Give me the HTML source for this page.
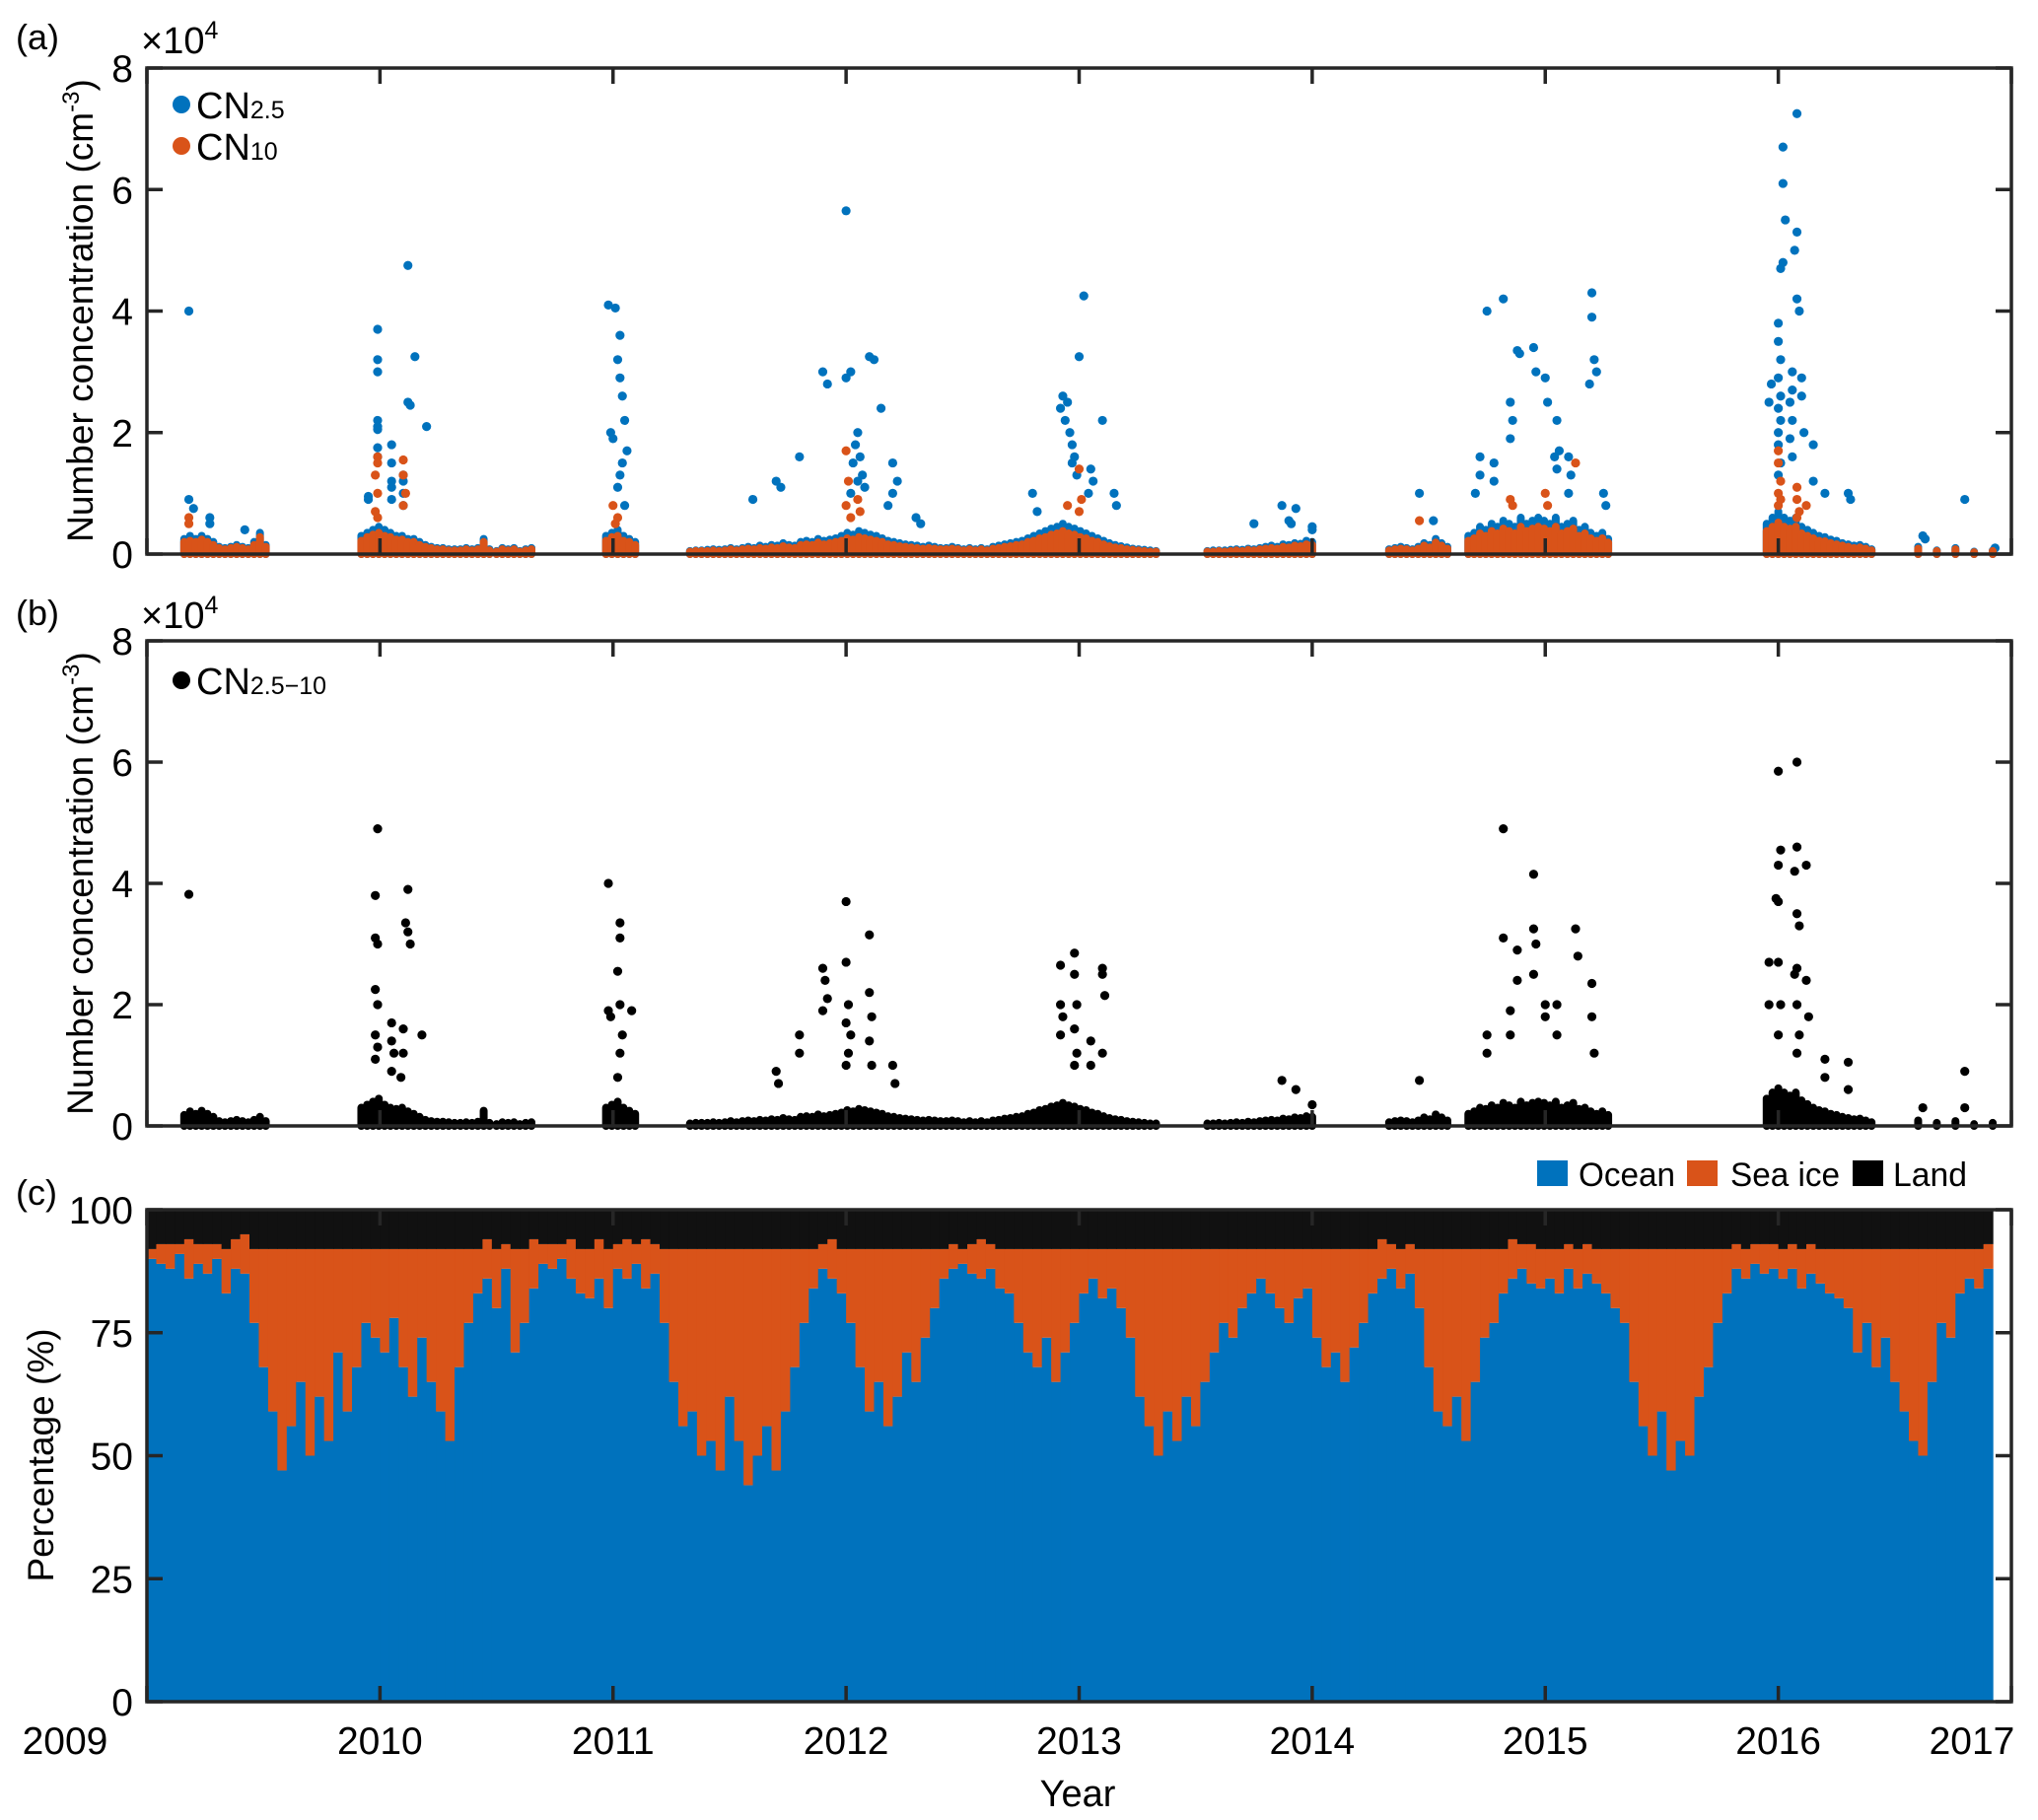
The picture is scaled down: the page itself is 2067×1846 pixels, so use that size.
<!DOCTYPE html>
<html><head><meta charset="utf-8"><style>
html,body{margin:0;padding:0;background:#fff;}
svg{display:block;font-family:"Liberation Sans",Arial,sans-serif;}
</style></head><body>
<svg id="chart" xmlns="http://www.w3.org/2000/svg" width="2067" height="1846" viewBox="0 0 2067 1846">
<rect width="2067" height="1846" fill="#fff"/>
<g id="gA"></g>
<g id="gB"></g>
<g id="gC"></g>
<g id="gT"></g>
</svg>
<script>
// ---- data ----
const yearTicks = [2009,2010,2011,2012,2013,2014,2015,2016,2017];
const concTicks = [0,2,4,6,8];
const pctTicks = [0,25,50,75,100];
const campStart = [2009.16,2009.92,2010.5,2010.97,2011.33,2013.55,2014.33,2014.67,2015.95,2016.6];
const campStep  = [0.025,0.025,0.025,0.025,0.025,0.025,0.025,0.025,0.025,0.08];
const cn25Base = [
[.25,.3,.25,.3,.25,.2,.12,.1,.12,.15,.12,.1,.2,.35,.15],
[.3,.35,.4,.45,.4,.35,.3,.3,.25,.25,.2,.15,.12,.1,.1,.08,.08,.08,.1,.08,.1,.25,.08],
[.05,.1,.08,.1,.05,.08,.1],
[.3,.35,.4,.3,.25,.2],
[.05,.06,.06,.07,.08,.07,.08,.1,.08,.1,.12,.1,.14,.12,.15,.14,.18,.15,.14,.2,.22,.2,.25,.22,.24,.26,.3,.35,.32,.38,.35,.32,.3,.26,.22,.2,.18,.16,.15,.14,.12,.14,.12,.1,.1,.12,.1,.08,.1,.08,.1,.08,.12,.14,.16,.18,.2,.22,.26,.3,.34,.38,.42,.45,.5,.45,.42,.38,.34,.3,.26,.22,.18,.15,.13,.11,.09,.08,.07,.06,.05],
[.05,.06,.06,.06,.07,.08,.07,.09,.08,.1,.12,.14,.12,.16,.15,.18,.17,.22,.2],
[.08,.1,.12,.1,.08,.12,.18,.15,.25,.18,.12],
[.3,.35,.45,.4,.5,.45,.55,.5,.45,.6,.5,.55,.6,.55,.5,.6,.45,.5,.55,.4,.45,.35,.3,.35,.25],
[.5,.6,.7,.6,.55,.6,.45,.4,.35,.3,.28,.24,.22,.18,.16,.14,.15,.12,.08],
[.12,.06,.1,.04,.06]];
const cn10Base = [
[.2,.22,.2,.24,.2,.15,.1,.08,.1,.12,.1,.08,.15,.28,.12],
[.22,.28,.32,.35,.3,.28,.24,.24,.2,.2,.15,.12,.1,.08,.08,.06,.06,.06,.08,.06,.08,.2,.06],
[.04,.08,.06,.08,.04,.06,.08],
[.22,.28,.3,.22,.2,.15],
[.04,.05,.05,.05,.06,.05,.06,.08,.06,.08,.09,.08,.1,.09,.11,.1,.13,.11,.1,.15,.16,.15,.19,.16,.18,.2,.22,.26,.24,.28,.26,.24,.22,.2,.16,.15,.13,.12,.11,.1,.09,.1,.09,.08,.08,.09,.08,.06,.08,.06,.08,.06,.09,.1,.12,.13,.15,.16,.2,.22,.26,.28,.32,.34,.38,.34,.32,.28,.26,.22,.2,.16,.13,.11,.1,.08,.07,.06,.05,.04,.04],
[.04,.04,.05,.04,.05,.06,.05,.07,.06,.08,.09,.1,.09,.12,.11,.14,.13,.16,.15],
[.06,.08,.09,.08,.06,.09,.14,.11,.19,.14,.09],
[.22,.26,.34,.3,.38,.34,.42,.38,.34,.45,.38,.42,.45,.42,.38,.45,.34,.38,.42,.3,.34,.26,.22,.26,.19],
[.38,.45,.52,.45,.42,.45,.34,.3,.26,.22,.21,.18,.16,.14,.12,.1,.11,.09,.06],
[.09,.05,.08,.03,.05]];
const diffBase = [
[.18,.24,.2,.25,.2,.15,.08,.06,.08,.1,.08,.06,.1,.15,.08],
[.3,.35,.4,.45,.35,.3,.28,.3,.24,.2,.15,.1,.08,.07,.07,.06,.05,.05,.06,.05,.07,.25,.05],
[.03,.06,.05,.06,.03,.05,.06],
[.3,.35,.4,.3,.25,.2],
[.04,.05,.05,.05,.06,.05,.06,.08,.06,.08,.09,.08,.1,.09,.11,.1,.13,.11,.1,.15,.16,.15,.19,.16,.18,.2,.22,.26,.24,.28,.26,.24,.22,.2,.16,.15,.13,.12,.11,.1,.09,.1,.09,.08,.08,.09,.08,.06,.08,.06,.08,.06,.09,.1,.12,.13,.15,.16,.2,.22,.26,.28,.32,.34,.38,.34,.32,.28,.26,.22,.2,.16,.13,.11,.1,.08,.07,.06,.05,.04,.04],
[.04,.04,.05,.04,.05,.06,.05,.07,.06,.08,.09,.1,.09,.12,.11,.14,.13,.16,.15],
[.06,.08,.09,.08,.06,.09,.14,.11,.19,.14,.09],
[.2,.24,.3,.28,.34,.3,.38,.34,.3,.4,.34,.38,.4,.38,.34,.4,.3,.34,.38,.28,.3,.24,.2,.24,.18],
[.45,.55,.62,.55,.5,.55,.42,.36,.3,.26,.24,.2,.18,.15,.13,.11,.12,.09,.06],
[.09,.05,.08,.03,.05]];
const cn25Out = [[2009.18,4.0],[2009.18,0.9],[2009.2,0.75],[2009.27,0.6],[2009.27,0.5],[2009.42,0.4],
[2009.99,3.7],[2009.99,3.2],[2009.99,3.0],[2009.99,2.2],[2009.99,2.1],[2009.99,2.05],[2009.99,1.75],[2009.99,1.6],[2009.95,0.95],[2009.95,0.9],
[2010.12,4.75],[2010.12,2.5],[2010.13,2.45],[2010.15,3.25],[2010.2,2.1],[2010.05,1.8],[2010.05,1.5],[2010.05,1.2],[2010.05,1.1],[2010.05,0.9],[2010.1,1.3],[2010.1,1.2],[2010.1,1.0],[2010.1,0.8],
[2010.98,4.1],[2011.01,4.05],[2011.03,3.6],[2011.02,3.2],[2011.03,2.9],[2011.04,2.6],[2011.05,2.2],[2010.99,2.0],[2011.0,1.9],[2011.06,1.7],[2011.04,1.5],[2011.03,1.3],[2011.02,1.1],[2011.05,0.8],
[2012.0,5.65],[2011.9,3.0],[2011.92,2.8],[2012.0,2.9],[2012.02,3.0],[2012.1,3.25],[2012.12,3.2],[2012.15,2.4],[2011.8,1.6],[2011.7,1.2],[2011.72,1.1],[2011.6,0.9],
[2012.05,2.0],[2012.04,1.8],[2012.06,1.6],[2012.03,1.5],[2012.07,1.3],[2012.05,1.2],[2012.08,1.1],[2012.02,1.0],[2012.2,1.5],[2012.22,1.2],[2012.2,1.0],[2012.18,0.8],[2012.3,0.6],[2012.32,0.5],
[2013.02,4.25],[2013.0,3.25],[2012.93,2.6],[2012.95,2.5],[2012.92,2.4],[2012.94,2.2],[2012.96,2.0],[2013.1,2.2],[2012.97,1.8],[2012.98,1.6],[2012.97,1.5],[2012.99,1.3],[2013.05,1.4],[2013.06,1.2],[2013.04,1.0],[2012.8,1.0],[2012.82,0.7],[2013.15,1.0],[2013.16,0.8],
[2013.87,0.8],[2013.93,0.75],[2013.9,0.55],[2013.91,0.5],[2013.75,0.5],[2014.0,0.45],[2014.0,0.4],
[2014.46,1.0],[2014.52,0.55],
[2014.75,4.0],[2014.82,4.2],[2014.88,3.35],[2014.89,3.3],[2014.95,3.4],[2014.96,3.0],[2015.0,2.9],[2015.01,2.5],[2015.2,4.3],[2015.2,3.9],[2015.21,3.2],[2015.22,3.0],[2015.19,2.8],
[2014.72,1.6],[2014.72,1.3],[2014.78,1.5],[2014.78,1.2],[2014.85,2.5],[2014.86,2.2],[2014.85,1.9],[2015.05,2.2],[2015.06,1.7],[2015.04,1.6],[2015.05,1.4],[2015.1,1.6],[2015.11,1.3],[2015.1,1.0],[2015.25,1.0],[2015.26,0.8],[2014.7,1.0],
[2016.02,6.7],[2016.02,6.1],[2016.03,5.5],[2016.02,4.8],[2016.01,4.7],[2016.08,7.25],[2016.08,5.3],[2016.07,5.0],[2016.08,4.2],[2016.09,4.0],[2015.97,2.8],[2015.96,2.5],
[2016.0,3.8],[2016.0,3.5],[2016.01,3.2],[2016.0,2.9],[2016.01,2.6],[2016.0,2.4],[2016.01,2.2],[2016.0,2.0],[2016.0,1.8],[2016.01,1.5],[2016.0,1.3],
[2016.06,3.0],[2016.06,2.7],[2016.05,2.5],[2016.06,2.2],[2016.05,1.9],[2016.06,1.6],[2016.1,2.9],[2016.1,2.6],[2016.11,2.0],[2016.15,1.8],[2016.15,1.2],[2016.2,1.0],[2016.3,1.0],[2016.31,0.9],
[2016.62,0.3],[2016.63,0.25],[2016.8,0.9],[2016.93,0.1]];
const cn10Out = [[2009.18,0.6],[2009.18,0.5],[2009.99,1.6],[2009.99,1.5],[2009.98,1.3],[2009.99,1.0],[2009.98,0.7],[2009.99,0.6],[2010.1,1.55],[2010.1,1.3],[2010.11,1.0],[2010.1,0.8],
[2011.0,0.8],[2011.02,0.6],[2011.01,0.5],[2012.0,1.7],[2012.01,1.2],[2012.0,0.8],[2012.02,0.6],[2012.05,0.9],[2012.06,0.7],[2013.0,1.4],[2013.01,0.9],[2013.0,0.7],[2012.95,0.8],
[2014.46,0.55],[2014.85,0.9],[2014.86,0.8],[2015.0,1.0],[2015.01,0.8],[2015.13,1.5],
[2016.0,1.7],[2016.0,1.5],[2016.01,1.2],[2016.0,1.0],[2016.01,0.9],[2016.0,0.8],[2016.08,1.1],[2016.08,0.9],[2016.09,0.7],[2016.08,0.6],[2016.12,0.8]];
const diffOut = [[2009.18,3.82],[2009.99,4.9],[2009.98,3.8],[2009.98,3.1],[2009.99,3.0],[2009.98,2.25],[2009.99,2.0],[2009.98,1.5],[2009.99,1.3],[2009.98,1.1],
[2010.12,3.9],[2010.11,3.35],[2010.12,3.2],[2010.13,3.0],[2010.18,1.5],[2010.05,1.7],[2010.05,1.4],[2010.06,1.2],[2010.05,0.9],[2010.1,1.6],[2010.1,1.2],[2010.09,0.8],
[2010.98,4.0],[2010.98,1.9],[2010.99,1.8],[2011.03,3.35],[2011.03,3.1],[2011.02,2.55],[2011.03,2.0],[2011.04,1.5],[2011.03,1.2],[2011.02,0.8],[2011.08,1.9],
[2011.8,1.5],[2011.8,1.2],[2011.7,0.9],[2011.71,0.7],[2011.9,2.6],[2011.91,2.4],[2011.92,2.1],[2011.9,1.9],
[2012.0,3.7],[2012.0,2.7],[2012.01,2.0],[2012.0,1.7],[2012.02,1.5],[2012.01,1.2],[2012.0,1.0],[2012.1,3.15],[2012.1,2.2],[2012.11,1.8],[2012.1,1.4],[2012.11,1.0],[2012.2,1.0],[2012.21,0.7],
[2012.92,2.65],[2012.92,2.0],[2012.93,1.8],[2012.92,1.5],[2012.98,2.85],[2012.98,2.5],[2012.99,2.0],[2012.98,1.6],[2012.99,1.2],[2012.98,1.0],[2013.1,2.6],[2013.1,2.5],[2013.11,2.15],[2013.1,1.2],[2013.05,1.4],[2013.05,1.0],
[2013.87,0.75],[2013.93,0.6],[2014.0,0.35],[2014.46,0.75],
[2014.75,1.5],[2014.75,1.2],[2014.82,4.9],[2014.82,3.1],[2014.88,2.9],[2014.88,2.4],[2014.95,4.15],[2014.95,3.25],[2014.96,3.0],[2014.95,2.5],[2015.0,2.0],[2015.0,1.8],[2015.05,2.0],[2015.05,1.5],[2015.13,3.25],[2015.14,2.8],[2015.2,2.35],[2015.2,1.8],[2015.21,1.2],[2014.85,1.9],[2014.85,1.5],
[2016.0,5.85],[2016.01,4.55],[2016.0,4.3],[2015.99,3.75],[2016.0,3.7],[2016.0,2.7],[2016.01,2.0],[2016.0,1.5],
[2016.08,6.0],[2016.08,4.6],[2016.07,4.2],[2016.08,3.5],[2016.09,3.3],[2016.08,2.6],[2016.07,2.5],[2016.08,2.0],[2016.09,1.5],[2016.08,1.2],
[2015.96,2.7],[2015.96,2.0],[2016.12,4.3],[2016.12,2.4],[2016.13,1.8],[2016.2,1.1],[2016.2,0.8],[2016.3,1.05],[2016.3,0.6],[2016.62,0.3],[2016.8,0.9],[2016.8,0.3]];
const binStart = 2009.0;
const binWidth = 0.04;
const oceanPct = [90,89,88,91,86,89,87,90,83,88,87,77,68,59,47,56,65,50,62,53,71,59,68,77,74,
71,78,68,62,74,65,59,53,68,77,83,86,80,88,71,77,84,89,88,90,86,83,82,86,80,
88,86,89,84,87,77,65,56,59,50,53,47,62,53,44,50,56,47,59,68,77,84,88,86,83,
77,68,59,65,56,62,71,65,74,80,86,88,89,87,86,88,84,83,77,71,68,74,65,71,77,
83,86,82,84,80,74,62,56,50,59,53,62,56,65,71,77,74,80,83,86,83,80,77,82,84,
74,68,71,65,72,77,83,86,88,84,87,80,68,59,56,62,53,65,74,77,83,86,88,85,84,
86,83,88,84,87,85,83,80,77,65,56,50,59,47,53,50,62,68,77,83,88,86,89,87,88,
86,88,84,87,85,83,82,80,71,77,68,74,65,59,53,50,65,77,74,83,86,84,88];
const seaIcePct = [2,4,5,2,8,4,6,3,9,6,8,15,24,33,45,36,27,42,30,39,21,33,24,15,18,
21,14,24,30,18,27,33,39,24,15,9,8,12,5,21,15,10,4,5,3,8,9,10,8,12,
5,8,4,10,6,15,27,36,33,42,39,45,30,39,48,42,36,45,33,24,15,8,5,8,9,
15,24,33,27,36,30,21,27,18,12,6,5,3,6,8,5,8,9,15,21,24,18,27,21,15,
9,6,10,8,12,18,30,36,42,33,39,30,36,27,21,15,18,12,9,6,9,12,15,10,8,
18,24,21,27,20,15,9,8,5,8,6,12,24,33,36,30,39,27,18,15,9,8,5,8,8,
6,9,5,8,6,7,9,12,15,27,36,42,33,45,39,42,30,24,15,9,5,6,4,6,5,
6,5,8,6,7,9,10,12,21,15,24,18,27,33,39,42,27,15,18,9,6,8,5];

const NS = "http://www.w3.org/2000/svg";
const L = 149, R = 2040;
const BLUE = "#0072BD", ORANGE = "#D95319", AX = "#262626";
function xs(y){ return L + (y - 2009) / 8 * (R - L); }
function mk(tag, attrs, parent){ const e = document.createElementNS(NS, tag); for (const k in attrs) e.setAttribute(k, attrs[k]); parent.appendChild(e); return e; }
const panels = {A:{top:69,bot:562,max:8}, B:{top:650,bot:1142,max:8}, C:{top:1227,bot:1726,max:100}};
function ys(p, v){ return p.bot - v / p.max * (p.bot - p.top); }

function drawBase(g, p, base, color){
  for (let c = 0; c < base.length; c++){
    for (let i = 0; i < base[c].length; i++){
      const x = xs(campStart[c] + campStep[c] * i);
      const ln = mk('line', {x1:x, x2:x, y1:ys(p,0), y2:ys(p,base[c][i]), stroke:color, 'stroke-width':8, 'stroke-linecap':'round'}, g);
      
      
    }
  }
}
function drawOut(g, p, pts, color){
  for (const pt of pts){
    const c = mk('circle', {cx:xs(pt[0]), cy:ys(p,pt[1]), r:4.6, fill:color}, g);
    
    
  }
}
function frame(g, p, ticks){
  mk('rect', {x:L, y:p.top, width:R-L, height:p.bot-p.top, fill:'none', stroke:AX, 'stroke-width':3.5}, g);
  for (const t of yearTicks){
    const x = xs(t);
    mk('line', {x1:x, x2:x, y1:p.bot, y2:p.bot-16, stroke:AX, 'stroke-width':3.5}, g);
    mk('line', {x1:x, x2:x, y1:p.top, y2:p.top+16, stroke:AX, 'stroke-width':3.5}, g);
  }
  for (const t of ticks){
    const y = ys(p, t);
    mk('line', {x1:L, x2:L+16, y1:y, y2:y, stroke:AX, 'stroke-width':3.5}, g);
    mk('line', {x1:R, x2:R-16, y1:y, y2:y, stroke:AX, 'stroke-width':3.5}, g);
    const tx = mk('text', {x:L-14, y:y+14, 'text-anchor':'end', 'font-size':39, fill:'#000'}, g);
    tx.textContent = t;
    
    
  }
}
const gA = document.getElementById('gA'), gB = document.getElementById('gB'), gC = document.getElementById('gC');
drawBase(gA, panels.A, cn25Base, BLUE);
drawOut(gA, panels.A, cn25Out, BLUE);
drawBase(gA, panels.A, cn10Base, ORANGE);
drawOut(gA, panels.A, cn10Out, ORANGE);
frame(gA, panels.A, concTicks);
drawBase(gB, panels.B, diffBase, '#000');
drawOut(gB, panels.B, diffOut, '#000');
frame(gB, panels.B, concTicks);
for (let i = 0; i < oceanPct.length; i++){
  const x0 = xs(binStart + binWidth * i), x1 = xs(binStart + binWidth * (i + 1));
  const p = panels.C, o = oceanPct[i], s = seaIcePct[i];
  const r1 = mk('rect', {x:x0, y:ys(p,o), width:x1-x0+0.6, height:ys(p,0)-ys(p,o), fill:BLUE}, gC);
  
  
  const r2 = mk('rect', {x:x0, y:ys(p,o+s), width:x1-x0+0.6, height:ys(p,o)-ys(p,o+s), fill:ORANGE}, gC);
  
  
  const r3 = mk('rect', {x:x0, y:ys(p,100), width:x1-x0+0.6, height:ys(p,o+s)-ys(p,100), fill:'#111'}, gC);
  
  
}
frame(gC, panels.C, pctTicks);
const gT = document.getElementById('gT');
for (const t of yearTicks){
  let x = xs(t);
  if (t === 2009) x = 66;
  if (t === 2017) x = 2000;
  const tx = mk('text', {x:x, y:1779, 'text-anchor':'middle', 'font-size':39, fill:'#000'}, gT);
  tx.textContent = t;
  
  
}
</script>
<script>
(function(){
const html=`
<text x="1093" y="1832" text-anchor="middle" font-size="38">Year</text>
<text x="16" y="50" font-size="36">(a)</text>
<text x="16" y="634" font-size="36">(b)</text>
<text x="16" y="1222" font-size="36">(c)</text>
<text x="143" y="54" font-size="38">×10<tspan font-size="25" dy="-15">4</tspan></text>
<text x="143" y="637" font-size="38">×10<tspan font-size="25" dy="-15">4</tspan></text>
<text transform="translate(94,315) rotate(-90)" text-anchor="middle" font-size="37">Number concentration (cm<tspan font-size="24" dy="-14">-3</tspan><tspan dy="14">)</tspan></text>
<text transform="translate(94,896) rotate(-90)" text-anchor="middle" font-size="37">Number concentration (cm<tspan font-size="24" dy="-14">-3</tspan><tspan dy="14">)</tspan></text>
<text transform="translate(54,1476) rotate(-90)" text-anchor="middle" font-size="37">Percentage (%)</text>
<g>
<circle cx="184" cy="106" r="9" fill="#0072BD"/>
<text x="199" y="120" font-size="38">CN<tspan font-size="25">2.5</tspan></text>
<circle cx="184" cy="148" r="9" fill="#D95319"/>
<text x="199" y="162" font-size="38">CN<tspan font-size="25">10</tspan></text>
</g>
<g>
<circle cx="184" cy="690" r="9" fill="#000"/>
<text x="199" y="704" font-size="38">CN<tspan font-size="25">2.5−10</tspan></text>
</g>
<g>
<rect x="1559" y="1177" width="31" height="26" fill="#0072BD"/>
<text x="1601" y="1203" font-size="34" textLength="98" lengthAdjust="spacingAndGlyphs">Ocean</text>
<rect x="1711" y="1177" width="31" height="26" fill="#D95319"/>
<text x="1755" y="1203" font-size="34" textLength="111" lengthAdjust="spacingAndGlyphs">Sea ice</text>
<rect x="1879" y="1177" width="31" height="26" fill="#000"/>
<text x="1920" y="1203" font-size="34" textLength="75" lengthAdjust="spacingAndGlyphs">Land</text>
</g>`;
document.getElementById('gT').insertAdjacentHTML('beforeend', html);
})();
</script>
</body></html>
